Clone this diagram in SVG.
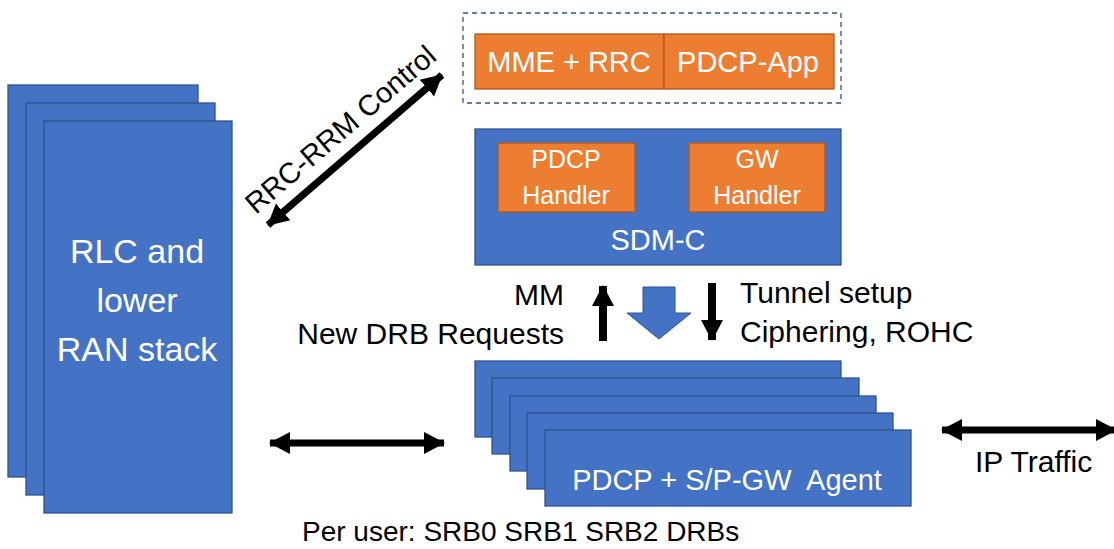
<svg xmlns="http://www.w3.org/2000/svg" width="1114" height="549" viewBox="0 0 1114 549">
  <defs>
    <style>
      .blue { fill: #4472C4; stroke: #2F528F; stroke-width: 1.3; }
      .orange { fill: #ED7D31; stroke: #AE5A21; stroke-width: 1.3; }
      .wt { font-family: "Liberation Sans", Arial, sans-serif; fill: #FFFFFF; text-anchor: middle; }
      .bt { font-family: "Liberation Sans", Arial, sans-serif; fill: #000000; }
      .conn { stroke: #000000; stroke-width: 7; fill: none; }
    </style>
    <marker id="ah" markerUnits="userSpaceOnUse" markerWidth="22" markerHeight="24" refX="20" refY="12" orient="auto-start-reverse" viewBox="0 0 22 24">
      <path d="M0,1 L21,12 L0,23 Z" fill="#000000"/>
    </marker>
  </defs>
  <rect width="1114" height="549" fill="#FFFFFF"/>

  <g id="ran-stack">
    <rect class="blue" x="8" y="85" width="190" height="392"/>
    <rect class="blue" x="26" y="103" width="189" height="392"/>
    <rect class="blue" x="44" y="121" width="188" height="392"/>
    <text class="wt" font-size="34" x="137" y="263">RLC and</text>
    <text class="wt" font-size="34" x="137" y="312">lower</text>
    <text class="wt" font-size="34" x="137" y="361">RAN stack</text>
  </g>

  <g id="app-box">
    <rect x="463" y="13" width="378" height="90" fill="none" stroke="#2F528F" stroke-width="1.3" stroke-dasharray="5,4"/>
    <rect class="orange" x="475" y="34" width="189" height="55"/>
    <rect class="orange" x="664" y="34" width="170" height="55"/>
    <text class="wt" font-size="29" x="569" y="72">MME + RRC</text>
    <text class="wt" font-size="29" x="748" y="72">PDCP-App</text>
  </g>

  <g id="sdm-c">
    <rect class="blue" x="475" y="129" width="366" height="136"/>
    <rect class="orange" x="498" y="143" width="137" height="69"/>
    <rect class="orange" x="689" y="143" width="136" height="69"/>
    <text class="wt" font-size="25" x="566" y="168">PDCP</text>
    <text class="wt" font-size="25" x="566" y="204">Handler</text>
    <text class="wt" font-size="25" x="757" y="168">GW</text>
    <text class="wt" font-size="25" x="757" y="204">Handler</text>
    <text class="wt" font-size="29" x="658" y="250">SDM-C</text>
  </g>

  <g id="pdcp-agents">
    <rect class="blue" x="475" y="361" width="366" height="76"/>
    <rect class="blue" x="492" y="378" width="367" height="76"/>
    <rect class="blue" x="510" y="396" width="366" height="75"/>
    <rect class="blue" x="527" y="413" width="366" height="76"/>
    <rect class="blue" x="545" y="430" width="366" height="76"/>
    <text class="wt" font-size="29" x="727" y="490" xml:space="preserve">PDCP + S/P-GW  Agent</text>
  </g>

  <g id="flow-arrow">
    <path d="M643,287 L675,287 L675,313 L691,313 L659,339 L627,313 L643,313 Z" fill="#4472C4" stroke="#2F528F" stroke-width="1"/>
  </g>

  <g id="connectors">
    <line class="conn" x1="268" y1="225" x2="442" y2="75" marker-start="url(#ah)" marker-end="url(#ah)"/>
    <line class="conn" x1="270" y1="443" x2="444" y2="443" marker-start="url(#ah)" marker-end="url(#ah)"/>
    <line class="conn" x1="942" y1="430" x2="1116" y2="430" marker-start="url(#ah)" marker-end="url(#ah)"/>
    <line x1="603" y1="341" x2="603" y2="286" stroke="#000" stroke-width="8" marker-end="url(#ah)"/>
    <line x1="712" y1="283" x2="712" y2="340" stroke="#000" stroke-width="8" marker-end="url(#ah)"/>
  </g>

  <g id="labels">
    <text class="bt" font-size="29" text-anchor="middle" transform="translate(347,137) rotate(-40.6)">RRC-RRM Control</text>
    <text class="bt" font-size="30" text-anchor="end" x="564" y="305">MM</text>
    <text class="bt" font-size="30" text-anchor="end" x="564" y="344">New DRB Requests</text>
    <text class="bt" font-size="30" x="740" y="303">Tunnel setup</text>
    <text class="bt" font-size="30" x="740" y="342">Ciphering, ROHC</text>
    <text class="bt" font-size="30" x="975" y="472">IP Traffic</text>
    <text class="bt" font-size="28" x="302" y="541">Per user: SRB0 SRB1 SRB2 DRBs</text>
  </g>
</svg>
